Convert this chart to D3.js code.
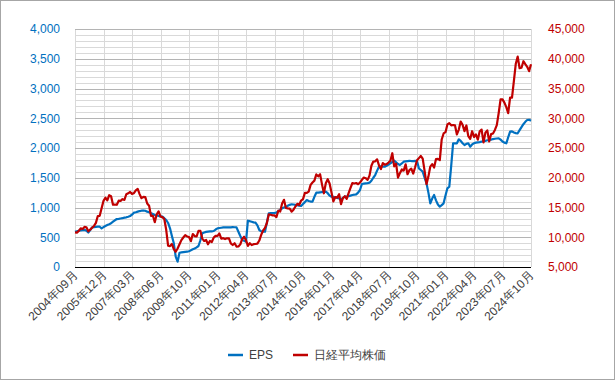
<!DOCTYPE html>
<html><head><meta charset="utf-8">
<script src="https://cdn.jsdelivr.net/npm/d3@7"></script>
<style>
html,body{margin:0;padding:0;background:#fff;}
svg{display:block;font-family:"Liberation Sans",Arial,sans-serif;}
</style></head>
<body><svg id="c" width="615" height="380"></svg>
<script>
// Monthly categories 2004-09 .. 2024-10 (one month, 2009-08, absent in source)
const startYear = 2004, startMonth = 9, skipMonth = "2009年08月", endLabel = "2024年10月";
const categories = [];
(function(){let y=startYear,m=startMonth;while(true){const s=y+"年"+String(m).padStart(2,"0")+"月";if(s!==skipMonth)categories.push(s);if(s===endLabel)break;m++;if(m>12){m=1;y++;}}})();

const tickLabels = ["2004年09月","2005年12月","2007年03月","2008年06月","2009年10月","2011年01月","2012年04月","2013年07月","2014年10月","2016年01月","2017年04月","2018年07月","2019年10月","2021年01月","2022年04月","2023年07月","2024年10月"];

const eps = [
590,600,610,615,620,625,610,580,620,665,670,675,
678,677,650,670,690,706,720,735,762,785,806,810,
815,820,829,835,845,857,880,913,920,930,940,946,
950,945,930,920,905,890,874,865,860,850,846,820,
790,740,650,520,398,174,89,240,245,250,255,257,
265,280,297,310,330,353,450,566,580,590,595,600,
600,605,630,650,655,660,665,665,667,668,667,670,
668,667,593,520,454,440,425,778,770,760,750,745,
700,622,600,595,593,750,902,905,908,910,913,940,
960,986,1000,1010,1030,1045,1054,1050,1045,1040,1030,1025,
1060,1090,1126,1110,1100,1098,1180,1249,1250,1255,1260,1262,
1266,1240,1200,1182,1180,1170,1160,1150,1137,1160,1182,1185,
1190,1200,1210,1215,1221,1250,1294,1395,1400,1405,1410,1417,
1450,1500,1546,1620,1686,1690,1688,1686,1700,1720,1742,1765,
1787,1760,1730,1714,1740,1770,1775,1780,1785,1781,1780,1782,
1781,1658,1630,1602,1500,1406,1250,1070,1150,1210,1120,1050,
1014,1040,1070,1200,1322,1350,1700,2079,2080,2079,2146,2120,
2080,2050,2070,2079,2022,2060,2080,2090,2095,2100,2106,2115,
2120,2130,2134,2140,2150,2155,2160,2163,2140,2110,2090,2079,
2180,2274,2280,2260,2250,2247,2300,2350,2400,2440,2471,2475,2459];

const nikkei = [
10823,10771,11062,11488,
11387,11740,11668,11008,11276,11584,11899,12413,13574,13606,14872,16111,
16649,16205,17059,16906,15467,15505,15456,16140,16127,16399,16274,17225,
17383,17604,17287,17400,17875,18138,17248,16569,16785,16737,15680,15307,
13592,13603,12525,13849,14338,13481,13376,13072,11259,8576,8512,8859,
7994,7568,8109,8828,9522,9958,10356,10133,10034,9345,10546,
10198,10126,11089,11057,9768,9382,9537,8824,9369,9202,9937,10228,
10237,10624,9755,9849,9693,9816,9833,8955,8700,8988,8434,8455,
8802,9723,10083,9520,8542,9006,8695,8839,8870,8928,9446,10395,
11138,11559,12397,13860,13774,13677,13668,13388,14455,14327,15661,16291,
14914,14841,14827,14304,14632,15162,15620,15424,16173,16413,17459,17450,
17674,18797,19206,19520,20563,20235,20585,18890,17388,19083,19747,19033,
17518,16026,16758,16666,17234,15575,16569,16887,16449,17425,18308,19114,
19041,19118,18909,19196,19650,20033,19925,19646,20356,22011,22724,22764,
23098,22068,21454,22467,22201,22304,22553,22865,24120,21920,22351,20015,
20773,21385,21206,22259,20601,21276,21521,20704,21756,22927,23294,23657,
23205,21143,18917,20194,21878,22288,21710,23140,23185,22977,26434,27444,
27663,28966,29179,28813,28860,28792,27284,28090,29453,28893,27822,28792,
27002,26527,27821,26848,27280,26393,27802,28092,25937,27587,27969,26095,
27327,27446,28041,28856,30888,33189,33172,32619,31858,30859,33487,33464,
36287,39166,40369,38406,38488,39583,39102,38648,37920,39081];

const leftTicks = [0,500,1000,1500,2000,2500,3000,3500,4000];
const rightTicks = [5000,10000,15000,20000,25000,30000,35000,40000,45000];
const seriesNames = ["EPS","日経平均株価"];
const colors = {eps:"#0070C0", nikkei:"#C00000"};

const svg = d3.select("#c");
const W=615,H=380;
const m = {left:75, right:84, top:29, bottom:113};
const x0=m.left, x1=W-m.right, y0=H-m.bottom, y1=m.top;

svg.append("rect").attr("x",0.5).attr("y",0.5).attr("width",W-1).attr("height",H-1).attr("fill","#fff").attr("stroke","#a6a6a6");

const x = d3.scalePoint().domain(categories).range([x0,x1]);
const yL = d3.scaleLinear().domain([0,4000]).range([y0,y1]);
const yR = d3.scaleLinear().domain([5000,45000]).range([y0,y1]);

// minor gridlines
const g = svg.append("g");
g.selectAll("line.minor").data(d3.range(0,4001,100).filter(v=>v%500!==0)).join("line")
 .attr("x1",x0).attr("x2",x1).attr("y1",d=>Math.round(yL(d))+0.5).attr("y2",d=>Math.round(yL(d))+0.5)
 .attr("stroke","#d9d9d9").attr("stroke-width",1);
// vertical gridlines
g.selectAll("line.v").data(tickLabels).join("line")
 .attr("x1",d=>Math.round(x(d))+0.5).attr("x2",d=>Math.round(x(d))+0.5).attr("y1",y1).attr("y2",y0)
 .attr("stroke","#d9d9d9");
// major gridlines
g.selectAll("line.major").data(leftTicks.filter(v=>v>0)).join("line")
 .attr("x1",x0).attr("x2",x1).attr("y1",d=>Math.round(yL(d))+0.5).attr("y2",d=>Math.round(yL(d))+0.5)
 .attr("stroke","#b4b4b4");

// axes via d3
const axL = svg.append("g").attr("transform",`translate(${x0},0)`)
 .call(d3.axisLeft(yL).tickValues(leftTicks).tickFormat(d3.format(",")).tickSize(0).tickPadding(15));
axL.select(".domain").remove();
axL.selectAll("text").attr("fill",colors.eps).style("font-size","12px");

const axR = svg.append("g").attr("transform",`translate(${x1},0)`)
 .call(d3.axisRight(yR).tickValues(rightTicks).tickFormat(d3.format(",")).tickSize(0).tickPadding(17));
axR.select(".domain").remove();
axR.selectAll("text").attr("fill",colors.nikkei).style("font-size","12px");

const axB = svg.append("g").attr("transform",`translate(0,${y0})`)
 .call(d3.axisBottom(x).tickValues(tickLabels).tickSize(0).tickPadding(0));
axB.select(".domain").remove();
axB.selectAll("text").attr("fill","#404040").style("font-size","12px")
 .attr("text-anchor","end").attr("dy","0").attr("dx","0")
 .attr("transform","translate(3,9) rotate(-45)");

// lines
const lineL = d3.line().x((d,i)=>x(categories[i])).y(d=>yL(d));
const lineR = d3.line().x((d,i)=>x(categories[i])).y(d=>yR(d));
svg.append("path").datum(eps).attr("d",lineL).attr("fill","none").attr("stroke",colors.eps).attr("stroke-width",2.2).attr("stroke-linejoin","round");
svg.append("path").datum(nikkei).attr("d",lineR).attr("fill","none").attr("stroke",colors.nikkei).attr("stroke-width",2.2).attr("stroke-linejoin","round");

// x axis line
svg.append("line").attr("x1",x0).attr("x2",x1).attr("y1",y0+0.5).attr("y2",y0+0.5).attr("stroke","#000").attr("stroke-width",1.2);

// legend
const leg = svg.append("g").attr("transform","translate(0,355)");
const items = [{n:seriesNames[0],c:colors.eps,x:228},{n:seriesNames[1],c:colors.nikkei,x:293}];
items.forEach(it=>{
  leg.append("line").attr("x1",it.x).attr("x2",it.x+15).attr("y1",0).attr("y2",0).attr("stroke",it.c).attr("stroke-width",2.5);
  leg.append("text").attr("x",it.x+21).attr("y",4).attr("fill","#404040").style("font-size","12px").text(it.n);
});
</script></body></html>
